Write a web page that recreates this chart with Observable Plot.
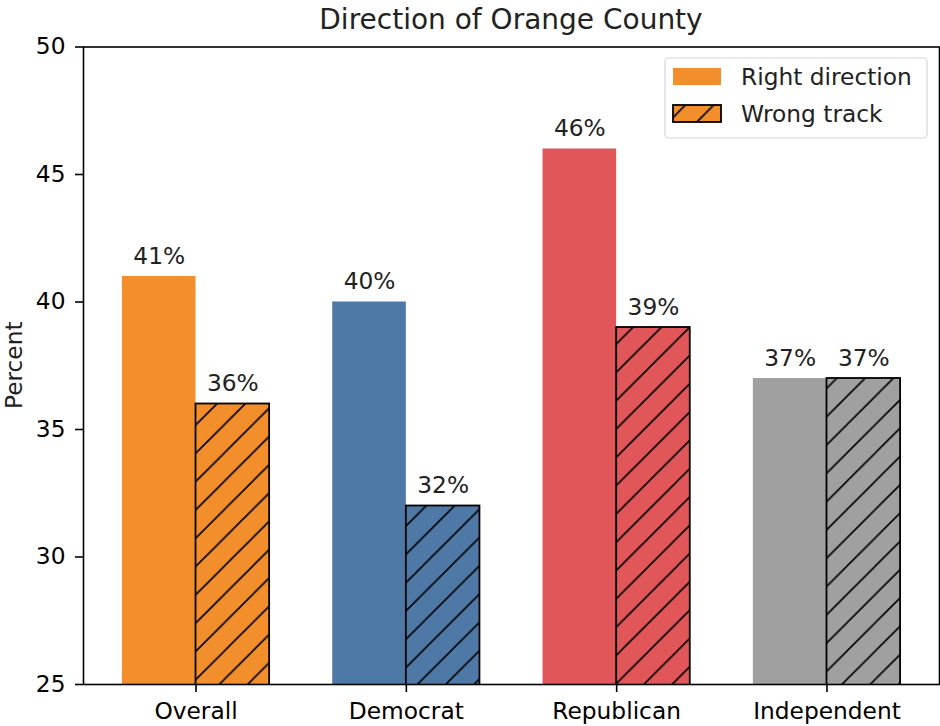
<!DOCTYPE html>
<html><head><meta charset="utf-8">
<script src="https://cdn.jsdelivr.net/npm/d3@7"></script>
<script src="https://cdn.jsdelivr.net/npm/@observablehq/plot@0.6"></script>
<style>
html,body{margin:0;padding:0;background:#fff;}
#chart svg{display:block;}
</style>
</head><body><div id="chart"></div>
<script>
// ---- data ----
const categories = ["Overall", "Democrat", "Republican", "Independent"];
const rightDirection = [41, 40, 46, 37];
const wrongTrack = [36, 32, 39, 37];
const groupColors = ["#F28E2B", "#4E79A7", "#E15759", "#A0A0A0"];
const seriesNames = ["Right direction", "Wrong track"];
const yTicks = [25, 30, 35, 40, 45, 50];
const chartTitle = "Direction of Orange County";
const yLabel = "Percent";

// ---- derived table ----
const BAR_W = 0.35;
const bars = [];
categories.forEach((c, i) => {
  bars.push({cat: c, series: seriesNames[0], value: rightDirection[i], x1: i - BAR_W, x2: i, color: groupColors[i]});
  bars.push({cat: c, series: seriesNames[1], value: wrongTrack[i], x1: i, x2: i + BAR_W, color: groupColors[i]});
});
const solid = bars.filter(d => d.series === seriesNames[0]);
const hatched = bars.filter(d => d.series === seriesNames[1]);

const FONT = "DejaVu Sans, sans-serif";
const FS = 23.3;

const plot = Plot.plot({
  width: 940,
  height: 726,
  marginLeft: 83,
  marginRight: 1,
  marginTop: 46.5,
  marginBottom: 42,
  style: {fontFamily: FONT, fontSize: FS + "px", color: "#000", background: "#fff", overflow: "visible"},
  x: {type: "linear", domain: [-0.535, 3.535]},
  y: {domain: [25, 50]},
  marks: [
    Plot.rectY(solid, {x1: "x1", x2: "x2", y1: 0, y2: "value", fill: "color", clip: true}),
    Plot.rectY(hatched, {x1: "x1", x2: "x2", y1: 0, y2: "value", fill: "color", clip: true}),
    Plot.rectY(hatched, {x1: "x1", x2: "x2", y1: 0, y2: "value", fill: "url(#hatch)", clip: true}),
    Plot.rectY(hatched, {x1: "x1", x2: "x2", y1: 0, y2: "value", fill: "none", stroke: "#000", strokeWidth: 1.8, clip: true}),
    Plot.text(bars, {x: d => (d.x1 + d.x2) / 2, y: "value", text: d => d.value + "%", dy: -13, lineAnchor: "bottom", fontSize: FS, fill: "#222"}),
    Plot.frame({stroke: "#000", strokeWidth: 1.6}),
    Plot.axisY({ticks: yTicks, tickSize: 8, tickPadding: 10, label: null, fontSize: FS, strokeWidth: 1.6}),
    Plot.axisX({ticks: categories.map((c, i) => i), tickFormat: i => categories[i], tickSize: 8, tickPadding: 10, label: null, fontSize: FS, strokeWidth: 1.6})
  ]
});

const svg = d3.select(plot);
// hatch pattern
const P = 28.3;
const defs = svg.insert("defs", ":first-child");
const pat = defs.append("pattern")
  .attr("id", "hatch")
  .attr("patternUnits", "userSpaceOnUse")
  .attr("width", P).attr("height", P)
  .attr("patternTransform", `translate(${26.4},0)`);
pat.append("path")
  .attr("d", `M0,${P} L${P},0 M${-P/2},${P/2} L${P/2},${-P/2} M${P/2},${P*1.5} L${P*1.5},${P/2}`)
  .attr("stroke", "#000").attr("stroke-width", 1.6).attr("fill", "none");

// title
svg.append("text")
  .attr("x", (83 + 939) / 2).attr("y", 29)
  .attr("text-anchor", "middle")
  .attr("font-family", FONT).attr("font-size", 28)
  .attr("fill", "#222")
  .text(chartTitle);

// y label
svg.append("text")
  .attr("transform", `translate(22,${(46.5 + 684) / 2}) rotate(-90)`)
  .attr("text-anchor", "middle")
  .attr("font-family", FONT).attr("font-size", FS)
  .attr("fill", "#222")
  .text(yLabel);

// legend
const lg = svg.append("g");
lg.append("rect").attr("x", 665).attr("y", 58).attr("width", 262).attr("height", 80)
  .attr("rx", 4).attr("fill", "#fff").attr("fill-opacity", 0.85)
  .attr("stroke", "#d6d6d6").attr("stroke-width", 1.2);
lg.append("rect").attr("x", 673).attr("y", 68).attr("width", 48).attr("height", 17)
  .attr("fill", groupColors[0]);
lg.append("rect").attr("x", 673).attr("y", 105).attr("width", 48).attr("height", 17)
  .attr("fill", groupColors[0]);
lg.append("rect").attr("x", 673).attr("y", 105).attr("width", 48).attr("height", 17)
  .attr("fill", "url(#hatch)");
lg.append("rect").attr("x", 673).attr("y", 105).attr("width", 48).attr("height", 17)
  .attr("fill", "none").attr("stroke", "#000").attr("stroke-width", 1.8);
seriesNames.forEach((s, k) => {
  lg.append("text").attr("x", 741).attr("y", 85 + k * 37)
    .attr("text-anchor", "start")
    .attr("font-family", FONT).attr("font-size", FS).attr("fill", "#222")
    .text(s);
});

document.getElementById("chart").appendChild(plot);
</script>
</body></html>
